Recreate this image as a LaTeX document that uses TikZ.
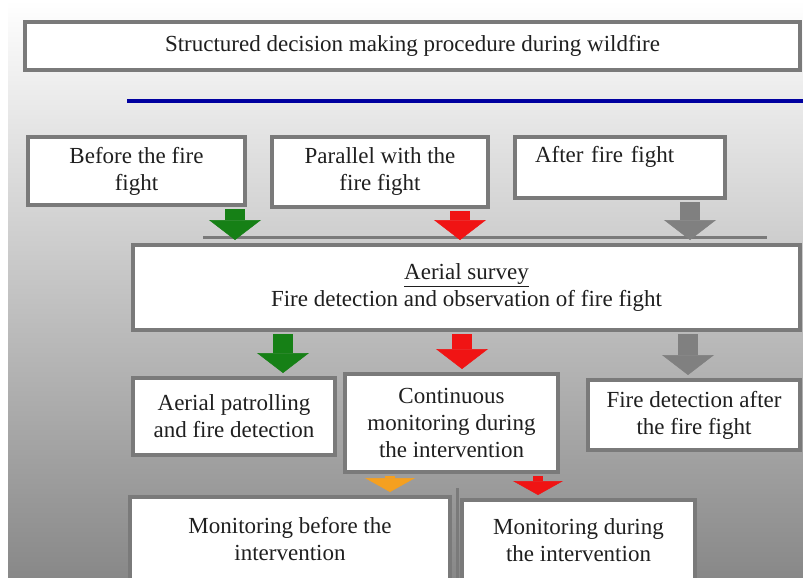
\documentclass[tikz,border=0pt]{standalone}
\usepackage{fontspec}
\setmainfont{Liberation Serif}
\usetikzlibrary{arrows.meta,calc}
\definecolor{boxgray}{RGB}{122,122,122}
\definecolor{bggray}{RGB}{136,136,136}
\definecolor{lineblue}{RGB}{0,0,160}
\definecolor{arrgreen}{RGB}{22,128,22}
\definecolor{arrred}{RGB}{240,20,20}
\definecolor{arrgray}{RGB}{128,128,128}
\definecolor{arrorange}{RGB}{245,160,32}

\begin{document}
\begin{tikzpicture}[x=1pt,y=-1pt,
  box/.style={draw=boxgray, line width=4pt, fill=white, align=center, inner sep=0pt,
    text=black!88, font=\fontsize{23}{27}\selectfont},
  bigarrow/.style={line width=20pt, shorten <=2pt, shorten >=3pt,
    -{Triangle[width=52pt,length=20pt,line width=0.5pt]}},
  smallarrow/.style={line width=10pt, shorten <=2pt, shorten >=3pt,
    -{Triangle[width=50pt,length=14pt,line width=0.5pt]}}]
\useasboundingbox (0,0) rectangle (803,578);
\clip (0,0) rectangle (803,578);
\shade[top color=white, bottom color=bggray] (8,0) rectangle (803,578);

\node[box, minimum width=775pt, minimum height=48pt] (title) at (412.5,46) {Structured decision making procedure during wildfire};
\draw[lineblue, line width=4pt] (127,101) -- (803,101);

\node[box, minimum width=217pt, minimum height=68pt] (before) at (136.5,171) {Before the fire\\fight};
\node[box, minimum width=216pt, minimum height=70pt] (parallel) at (380,172) {Parallel with the\\fire fight};
\node[box, minimum width=210pt, minimum height=61pt, text width=170pt, align=left] (after) at (620,167.5) {After fire fight\\\mbox{}};

\node[box, minimum width=667pt, minimum height=85pt] (aerial) at (466.5,287.5) {\underline{Aerial survey}\\Fire detection and observation of fire fight};
\draw[boxgray, line width=3pt] ($(aerial.north west)+(72,-6)$) -- ($(aerial.north east)+(-35,-6)$);

\node[box, minimum width=202pt, minimum height=77pt] (patrol) at (234,416.5) {Aerial patrolling\\and fire detection};
\node[box, minimum width=213pt, minimum height=98pt] (continuous) at (451.5,423) {Continuous\\monitoring during\\the intervention};
\node[box, minimum width=212pt, minimum height=70pt] (detect) at (694,415) {Fire detection after\\the fire fight};

\node[box, minimum width=320pt, minimum height=84pt] (monbefore) at (290,539) {Monitoring before the\\intervention};
\node[box, minimum width=233pt, minimum height=81pt] (monduring) at (578.5,540.5) {Monitoring during\\the intervention};
\draw[boxgray, line width=3pt] ($(monbefore.north east)+(5,-7)$) -- ($(monbefore.north east)+(5,100)$);

\coordinate (g1) at ($(before.south east)+(-12,0)$);
\coordinate (r1) at ($(parallel.south)+(80,0)$);
\coordinate (y1) at ($(after.south east)+(-37,0)$);
\draw[bigarrow, arrgreen] (g1) -- (g1 |- aerial.north);
\draw[bigarrow, arrred] (r1) -- (r1 |- aerial.north);
\draw[bigarrow, arrgray] (y1) -- (y1 |- aerial.north);

\coordinate (g2) at ($(patrol.north)+(49,0)$);
\coordinate (r2) at ($(continuous.north)+(10.5,0)$);
\coordinate (y2) at ($(detect.north)+(-6,0)$);
\draw[bigarrow, arrgreen] (g2 |- aerial.south) -- (g2);
\draw[bigarrow, arrred] (r2 |- aerial.south) -- (r2);
\draw[bigarrow, arrgray] (y2 |- aerial.south) -- (y2);

\coordinate (o3) at ($(continuous.south)+(-61.5,0)$);
\coordinate (r3) at ($(continuous.south)+(86.5,0)$);
\draw[smallarrow, arrorange] (o3) -- (o3 |- monbefore.north);
\draw[smallarrow, arrred] (r3) -- (r3 |- monduring.north);
\end{tikzpicture}
\end{document}
